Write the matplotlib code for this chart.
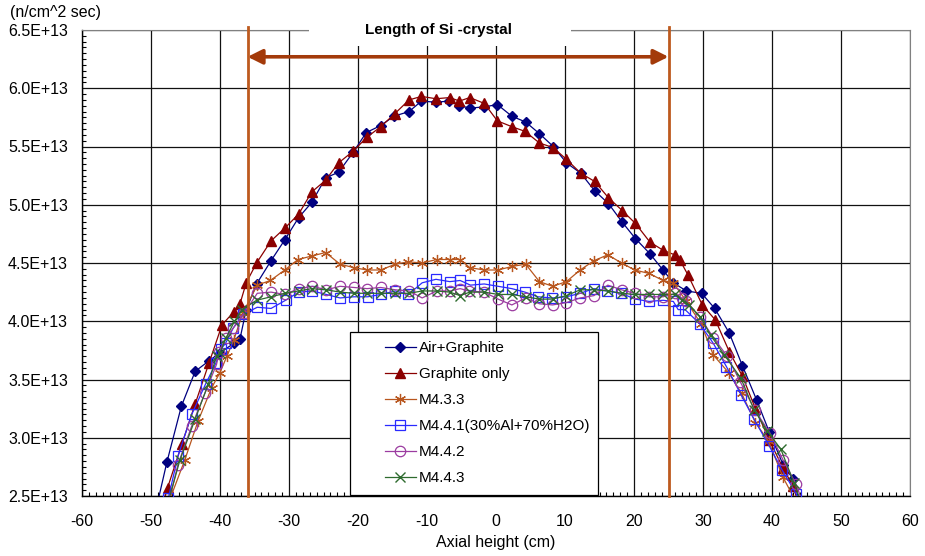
import matplotlib
matplotlib.use("Agg")
import matplotlib.pyplot as plt
from matplotlib.patches import Rectangle
from matplotlib.ticker import MultipleLocator, FuncFormatter

plt.rcParams['font.family'] = ['Liberation Sans', 'DejaVu Sans']
plt.rcParams['axes.unicode_minus'] = False

# flux values in units of 1E+13 n/cm^2 sec
air_x = [-49.6, -47.7, -45.6, -43.6, -41.6, -40.0, -38.0, -37.1, -36.2, -34.7, -32.6, -30.6,
         -28.6, -26.7, -24.7, -22.8, -20.7, -18.8, -16.7, -14.8, -12.6, -10.8, -8.7, -6.8,
         -5.3, -3.7, -1.7, 0.2, 2.3, 4.3, 6.3, 8.3, 10.2, 12.3, 14.3, 16.3, 18.3, 20.2, 22.3,
         24.2, 25.7, 27.6, 29.8, 31.7, 33.8, 35.7, 37.8, 39.6, 41.6, 43.0, 44.8]
air_y = [2.30, 2.79, 3.27, 3.57, 3.66, 3.73, 3.81, 3.85, 4.10, 4.32, 4.52, 4.70,
         4.89, 5.02, 5.23, 5.28, 5.45, 5.62, 5.68, 5.76, 5.80, 5.89, 5.88, 5.89,
         5.85, 5.83, 5.84, 5.86, 5.76, 5.71, 5.61, 5.50, 5.36, 5.27, 5.12, 5.01, 4.85, 4.71, 4.58,
         4.44, 4.33, 4.26, 4.24, 4.11, 3.90, 3.62, 3.32, 3.05, 2.77, 2.65, 2.30]

gr_x = [-49.5, -47.6, -45.5, -43.6, -41.6, -39.7, -38.0, -37.1, -36.2, -34.7, -32.6, -30.6,
        -28.6, -26.7, -24.7, -22.8, -20.7, -18.7, -16.7, -14.7, -12.6, -10.8, -8.7, -6.7,
        -5.3, -3.8, -1.7, 0.2, 2.3, 4.2, 6.3, 8.3, 10.2, 12.3, 14.3, 16.3, 18.3, 20.2, 22.3,
        24.2, 25.9, 26.6, 27.8, 29.9, 31.8, 33.8, 35.7, 37.6, 39.6, 41.6, 43.0, 44.6]
gr_y = [2.20, 2.57, 2.95, 3.29, 3.64, 3.97, 4.08, 4.15, 4.33, 4.50, 4.69, 4.80,
        4.92, 5.11, 5.21, 5.36, 5.46, 5.58, 5.67, 5.78, 5.90, 5.93, 5.91, 5.92,
        5.89, 5.92, 5.87, 5.72, 5.67, 5.63, 5.53, 5.49, 5.39, 5.27, 5.20, 5.06, 4.95, 4.84, 4.68,
        4.61, 4.57, 4.53, 4.40, 4.14, 4.01, 3.74, 3.53, 3.25, 2.98, 2.74, 2.59, 2.30]

m433_x = [-47.4, -45.1, -43.2, -41.2, -40.0, -39.0, -38.0, -36.7, -34.6, -32.7, -30.6, -28.7,
          -26.7, -24.7, -22.6, -20.6, -18.7, -16.7, -14.6, -12.7, -10.7, -8.6, -6.7, -5.2,
          -3.8, -1.7, 0.3, 2.3, 4.3, 6.3, 8.2, 10.2, 12.2, 14.2, 16.2, 18.2, 20.1, 22.2, 24.2,
          25.7, 27.6, 29.7, 31.5, 33.7, 35.6, 37.6, 39.5, 41.6, 43.5]
m433_y = [2.45, 2.81, 3.14, 3.43, 3.56, 3.70, 3.84, 4.07, 4.31, 4.35, 4.44, 4.53,
          4.56, 4.59, 4.49, 4.46, 4.44, 4.44, 4.49, 4.51, 4.50, 4.53, 4.53, 4.53,
          4.46, 4.44, 4.44, 4.47, 4.49, 4.34, 4.30, 4.34, 4.44, 4.52, 4.57, 4.50, 4.44, 4.41, 4.35,
          4.33, 4.17, 3.98, 3.71, 3.56, 3.38, 3.13, 2.97, 2.66, 2.45]

m441_x = [-47.5, -46.1, -44.1, -42.1, -40.6, -39.9, -39.2, -38.1, -36.6, -34.6, -32.6, -30.5,
          -28.6, -26.6, -24.6, -22.6, -20.6, -18.6, -16.7, -14.6, -12.7, -10.7, -8.7, -6.7,
          -5.2, -3.7, -1.7, 0.3, 2.3, 4.2, 6.1, 8.1, 10.2, 12.2, 14.2, 16.1, 18.1, 20.2, 22.2,
          24.2, 25.7, 26.4, 27.4, 29.5, 31.5, 33.4, 35.5, 37.4, 39.6, 41.5, 43.5, 45.0]
m441_y = [2.48, 2.84, 3.20, 3.46, 3.64, 3.76, 3.81, 3.94, 4.06, 4.12, 4.11, 4.18,
          4.25, 4.26, 4.23, 4.20, 4.21, 4.21, 4.23, 4.26, 4.23, 4.33, 4.36, 4.34,
          4.35, 4.31, 4.32, 4.30, 4.28, 4.25, 4.21, 4.20, 4.21, 4.24, 4.28, 4.26, 4.24, 4.19, 4.17,
          4.18, 4.17, 4.10, 4.10, 3.98, 3.81, 3.61, 3.37, 3.16, 2.93, 2.72, 2.52, 2.30]

m442_x = [-47.6, -46.1, -44.1, -42.2, -40.5, -40.1, -39.1, -38.1, -36.5, -34.6, -32.6, -30.6,
          -28.6, -26.6, -24.6, -22.6, -20.6, -18.7, -16.7, -14.6, -12.6, -10.7, -8.6, -6.7,
          -5.2, -3.9, -1.7, 0.3, 2.3, 4.3, 6.3, 8.2, 10.2, 12.2, 14.2, 16.2, 18.2, 20.1, 22.2,
          24.2, 26.0, 26.9, 27.6, 29.5, 31.5, 33.5, 35.4, 37.5, 39.7, 41.6, 43.5, 45.0]
m442_y = [2.40, 2.77, 3.10, 3.38, 3.63, 3.74, 3.86, 3.94, 4.07, 4.24, 4.25, 4.23,
          4.28, 4.30, 4.27, 4.30, 4.29, 4.28, 4.29, 4.27, 4.26, 4.20, 4.26, 4.26,
          4.28, 4.26, 4.25, 4.19, 4.14, 4.20, 4.15, 4.14, 4.16, 4.20, 4.22, 4.31, 4.27, 4.24, 4.21,
          4.21, 4.24, 4.20, 4.17, 4.04, 3.86, 3.70, 3.48, 3.24, 3.04, 2.81, 2.60, 2.35]

m443_x = [-47.5, -45.8, -43.6, -41.7, -40.5, -40.0, -39.1, -37.9, -36.8, -34.7, -32.6, -30.6,
          -28.6, -26.7, -24.6, -22.6, -20.6, -18.7, -16.7, -14.6, -12.6, -10.7, -8.6, -6.7,
          -5.2, -3.8, -1.7, 0.3, 2.3, 4.3, 6.3, 8.2, 10.2, 12.2, 14.2, 16.2, 18.2, 20.1, 22.2,
          24.2, 26.0, 27.0, 27.9, 29.6, 31.1, 33.1, 35.5, 37.4, 39.3, 41.3, 43.2, 44.8]
m443_y = [2.45, 2.81, 3.16, 3.46, 3.70, 3.73, 3.86, 4.00, 4.10, 4.18, 4.21, 4.24,
          4.26, 4.28, 4.27, 4.25, 4.24, 4.24, 4.24, 4.24, 4.24, 4.26, 4.26, 4.25,
          4.22, 4.25, 4.25, 4.23, 4.23, 4.21, 4.19, 4.19, 4.22, 4.27, 4.27, 4.26, 4.24, 4.23, 4.23,
          4.23, 4.23, 4.18, 4.14, 4.04, 3.88, 3.71, 3.51, 3.24, 3.06, 2.90, 2.61, 2.35]

crystal_start = -36
crystal_end = 25
arrow_level = 6.27
SCALE = 1e13


def sc(vals):
    return [v * SCALE for v in vals]


fig = plt.figure(figsize=(9.25, 5.56), dpi=100)
ax = fig.add_axes([82 / 925, 60 / 556, 828 / 925, 466 / 556])

ax.plot(air_x, sc(air_y), "-D", color="#000080", lw=0.9, ms=5.2,
        label="Air+Graphite", zorder=3)
ax.plot(gr_x, sc(gr_y), "-^", color="#8B0000", lw=0.9, ms=7.5,
        label="Graphite only", zorder=3)
ax.plot(m433_x, sc(m433_y), "-", marker=(6, 2, 0), color="#B8561E", lw=0.9, ms=8,
        mew=0.9, label="M4.3.3", zorder=3)
ax.plot(m441_x, sc(m441_y), "-s", color="#2A2AFF", lw=0.9, ms=7.5, mfc="none",
        mew=0.9, label="M4.4.1(30%Al+70%H2O)", zorder=3)
ax.plot(m442_x, sc(m442_y), "-o", color="#9B3BA0", lw=0.9, ms=7.5, mfc="none",
        mew=0.9, label="M4.4.2", zorder=3)
ax.plot(m443_x, sc(m443_y), "-x", color="#2E6B2E", lw=0.9, ms=6.5,
        mew=1.0, label="M4.4.3", zorder=3)

# Si-crystal limits
for xv in (crystal_start, crystal_end):
    ax.plot([xv, xv], [2.5 * SCALE, 6.53 * SCALE], color="#BD5A1E", lw=2.0,
            clip_on=False, zorder=4)
ax.annotate("", xy=(crystal_start, arrow_level * SCALE),
            xytext=(crystal_end, arrow_level * SCALE),
            arrowprops=dict(arrowstyle="<|-|>", color="#A33A0A", lw=2.6,
                            mutation_scale=22, shrinkA=0, shrinkB=0), zorder=5)

# white box behind the title, cuts the top border
ax.add_patch(Rectangle((-27.1, 6.36 * SCALE), 38.0, 0.3 * SCALE, facecolor="white",
                       edgecolor="none", clip_on=False, zorder=6))
ax.text(-8.3, 6.5 * SCALE, "Length of Si -crystal", ha="center", va="center",
        fontsize=11, fontweight="bold", zorder=7)

ax.set_xlim(-60, 60)
ax.set_ylim(2.5 * SCALE, 6.5 * SCALE)
ax.xaxis.set_major_locator(MultipleLocator(10))
ax.xaxis.set_minor_locator(MultipleLocator(1))
ax.yaxis.set_major_locator(MultipleLocator(0.5 * SCALE))
ax.yaxis.set_minor_locator(MultipleLocator(0.05 * SCALE))
ax.yaxis.set_major_formatter(FuncFormatter(lambda v, p: f"{v / SCALE:.1f}E+13"))
ax.tick_params(which="major", length=0, labelsize=11.5)
ax.tick_params(axis="x", which="major", pad=13)
ax.tick_params(axis="y", which="major", pad=10)
ax.tick_params(which="minor", direction="in", length=3, width=0.8)
ax.grid(True, which="major", color="#111111", lw=0.9)
ax.set_axisbelow(True)
for s in ("top", "right"):
    ax.spines[s].set_color("#808080")
for s in ("left", "bottom"):
    ax.spines[s].set_linewidth(1.0)

ax.set_xlabel("Axial height (cm)", fontsize=11.5, labelpad=4)
fig.text(10 / 925, 1 - 13 / 556, "(n/cm^2 sec)", fontsize=11.5, va="center")

# legend with its own frame
ax.add_patch(Rectangle((0.324, 0.003), 0.299, 0.349, transform=ax.transAxes,
                       facecolor="white", edgecolor="black", lw=0.9, zorder=8))
leg = ax.legend(loc="upper left", bbox_to_anchor=(0.366, 0.332), frameon=False,
                fontsize=11, borderpad=0, borderaxespad=0, handlelength=2.0,
                handletextpad=0.2, labelspacing=0.78)
leg.set_zorder(9)

fig.savefig("out.png", dpi=100)
